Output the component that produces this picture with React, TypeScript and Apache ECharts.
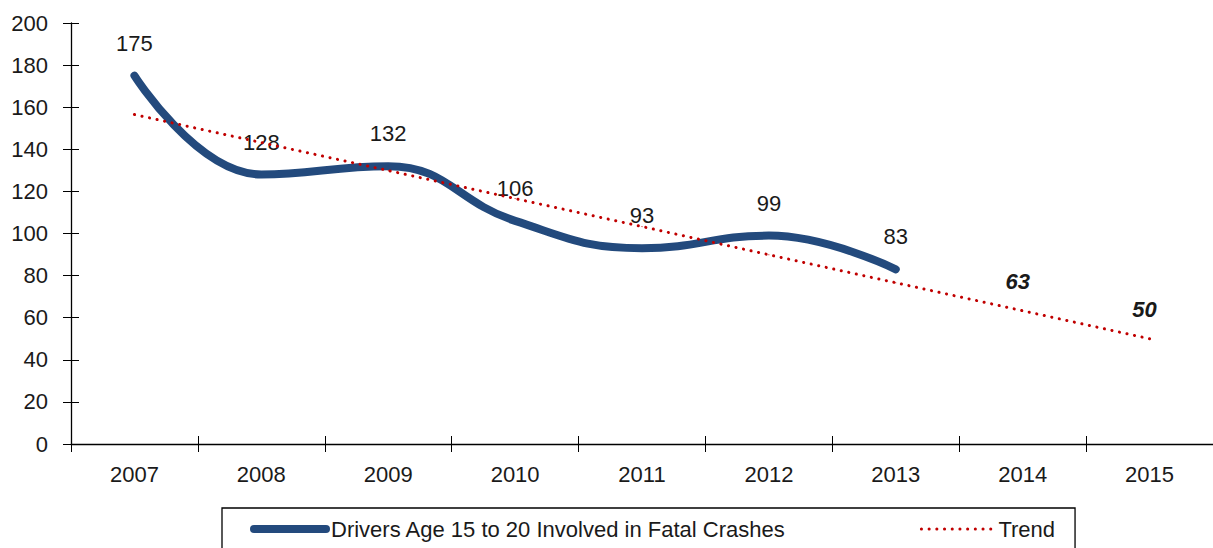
import React, { useEffect, useRef } from "react";
import * as echarts from "echarts";

const categories = ["2007", "2008", "2009", "2010", "2011", "2012", "2013", "2014", "2015"];
const driverValues = [175, 128, 132, 106, 93, 99, 83];
const trendValues = [156.5, 143.2, 129.9, 116.6, 103.3, 89.9, 76.6, 63.3, 50.0];
const trendLabels = ["", "", "", "", "", "", "", "63", "50"];
const yTicks = { min: 0, max: 200, interval: 20 };
const seriesNames = ["Drivers Age 15 to 20 Involved in Fatal Crashes", "Trend"];

const FONT = "'Liberation Sans', Arial, sans-serif";
const FS = 22;
const TEXT = "#1a1a1a";
const BLUE = "#234a7d";
const RED = "#c00000";

export default function App() {
  const ref = useRef<HTMLDivElement>(null);
  useEffect(() => {
    if (!ref.current) return;
    const chart = echarts.init(ref.current, undefined, { renderer: "svg" });
    const axisLine = { show: true, lineStyle: { color: "#000", width: 1.3 } };
    chart.setOption({
      animation: false,
      textStyle: { fontFamily: FONT, color: TEXT },
      grid: { left: 71, top: 23, bottom: 104, width: 1146 },
      legend: {
        left: 222,
        top: 508,
        orient: "horizontal",
        borderColor: "#000",
        borderWidth: 1.3,
        padding: [10, 20, 20, 28],
        itemWidth: 72,
        itemHeight: 10,
        itemGap: 134,
        textStyle: { fontFamily: FONT, fontSize: FS, color: TEXT },
        data: [
          { name: seriesNames[0], itemStyle: { opacity: 0 }, lineStyle: { width: 8, cap: "round", color: BLUE } },
          { name: seriesNames[1], itemStyle: { opacity: 0 }, lineStyle: { width: 3, color: RED, type: [0.1, 7.6], cap: "round" } },
        ],
      },
      xAxis: [
        {
          type: "category",
          data: categories,
          boundaryGap: true,
          axisLine,
          axisTick: { show: true, length: 8, lineStyle: { color: "#000" } },
          axisLabel: { fontFamily: FONT, fontSize: FS, color: TEXT, margin: 19 },
          splitLine: { show: false },
        },
        {
          type: "category",
          data: categories,
          boundaryGap: true,
          position: "bottom",
          axisLine: { show: false },
          axisTick: { show: true, inside: true, length: 8, lineStyle: { color: "#000" } },
          axisLabel: { show: false },
          splitLine: { show: false },
        },
      ],
      yAxis: [
        {
          type: "value",
          min: yTicks.min,
          max: yTicks.max,
          interval: yTicks.interval,
          axisLine,
          axisTick: { show: true, length: 8, lineStyle: { color: "#000" } },
          axisLabel: { fontFamily: FONT, fontSize: FS, color: TEXT, margin: 23 },
          splitLine: { show: false },
        },
        {
          type: "value",
          min: yTicks.min,
          max: yTicks.max,
          interval: yTicks.interval,
          position: "left",
          axisLine: { show: false },
          axisTick: { show: true, inside: true, length: 8, lineStyle: { color: "#000" } },
          axisLabel: { show: false },
          splitLine: { show: false },
        },
      ],
      series: [
        {
          name: seriesNames[1],
          type: "line",
          data: trendValues.map((v, i) => ({
            value: v,
            label: trendLabels[i]
              ? {
                  show: true,
                  formatter: trendLabels[i],
                  position: "top",
                  distance: 18,
                  offset: [-5, 0],
                  fontFamily: FONT,
                  fontSize: FS,
                  fontWeight: "bold",
                  fontStyle: "italic",
                  color: TEXT,
                }
              : { show: false },
          })),
          symbol: "circle",
          symbolSize: 1,
          showSymbol: true,
          lineStyle: { color: RED, width: 3, type: [0.1, 7.6], cap: "round" },
          itemStyle: { color: RED },
          z: 3,
        },
        {
          name: seriesNames[0],
          type: "line",
          data: driverValues,
          smooth: 0.45,
          symbol: "circle",
          symbolSize: 1,
          showSymbol: true,
          lineStyle: { color: BLUE, width: 8, cap: "round" },
          itemStyle: { color: BLUE },
          label: {
            show: true,
            position: "top",
            distance: 21,
            fontFamily: FONT,
            fontSize: FS,
            color: TEXT,
          },
          z: 2,
        },
      ],
    });
    return () => chart.dispose();
  }, []);
  return <div ref={ref} style={{ width: 1213, height: 548, position: "absolute", left: 0, top: 0 }} />;
}
